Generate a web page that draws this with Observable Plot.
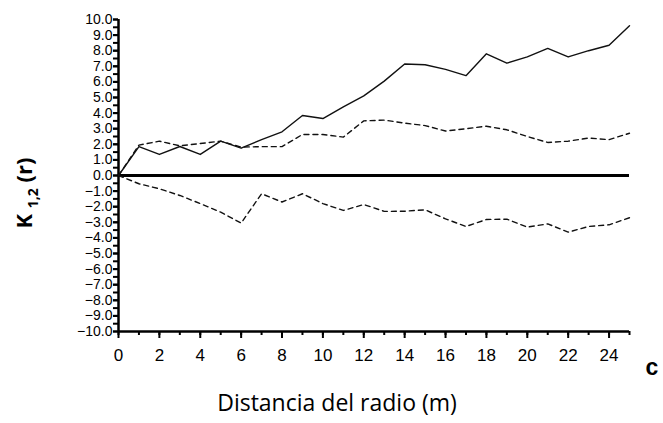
<!DOCTYPE html>
<html><head><meta charset="utf-8">
<script src="https://cdn.jsdelivr.net/npm/d3@7"></script>
<script src="https://cdn.jsdelivr.net/npm/@observablehq/plot@0.6"></script>
<style>body{margin:0;background:#fff}</style>
</head><body><div id="chart"></div>
<script>
const radius = d3.range(0, 26);
const observed = [0, 1.85, 1.35, 1.86, 1.35, 2.2, 1.75, 2.3, 2.8, 3.85, 3.65, 4.4, 5.1, 6.05, 7.15, 7.1, 6.8, 6.4, 7.8, 7.2, 7.6, 8.15, 7.6, 8.0, 8.35, 9.6];
const upperEnv = [0, 1.95, 2.2, 1.9, 2.05, 2.2, 1.82, 1.85, 1.85, 2.63, 2.63, 2.46, 3.5, 3.55, 3.36, 3.2, 2.85, 3.0, 3.16, 2.93, 2.5, 2.12, 2.2, 2.4, 2.3, 2.71];
const lowerEnv = [0, -0.53, -0.85, -1.28, -1.8, -2.35, -3.05, -1.17, -1.7, -1.17, -1.8, -2.24, -1.86, -2.3, -2.29, -2.2, -2.78, -3.27, -2.82, -2.8, -3.31, -3.1, -3.63, -3.27, -3.16, -2.71];
const yTicks = d3.range(-10, 11, 1);
const yMinor = d3.range(-10, 10.5, 0.5);
const xTicks = d3.range(0, 25, 2);
const xMinor = d3.range(0, 26, 1);
const xTitle = "Distancia del radio (m)";
const yTitleMain = "K";
const yTitleSub = "1,2";
const yTitleEnd = "(r)";
const panelLetter = "c";

const rows = radius.map((r, i) => ({r, obs: observed[i], hi: upperEnv[i], lo: lowerEnv[i]}));

const plot = Plot.plot({
  width: 663, height: 423,
  marginLeft: 118, marginRight: 34, marginTop: 19, marginBottom: 92,
  style: {fontFamily: "'Liberation Sans', Arial, sans-serif", fontSize: "18px", background: "#fff", color: "#000", overflow: "visible"},
  x: {domain: [0, 25]},
  y: {domain: [-10, 10]},
  marks: [
    Plot.axisY({ticks: yMinor, tickSize: 5, tickFormat: () => "", strokeWidth: 2, label: null}),
    Plot.axisY({ticks: yTicks, tickSize: 5, tickPadding: 1, tickFormat: d3.format(".1f"), strokeWidth: 2, fontSize: 14, letterSpacing: 0.8, label: null}),
    Plot.axisX({ticks: xMinor, tickSize: 4, tickFormat: () => "", strokeWidth: 2, label: null}),
    Plot.axisX({ticks: xTicks, tickSize: 7, tickPadding: 10, strokeWidth: 2, fontSize: 17, label: null}),
    Plot.ruleX([0], {y1: -10, y2: 10, strokeWidth: 2.5}),
    Plot.ruleY([-10], {x1: 0, x2: 25, strokeWidth: 2.5}),
    Plot.ruleY([0], {x1: 0, x2: 25, strokeWidth: 3}),
    Plot.line(rows, {x: "r", y: "hi", stroke: "#111", strokeWidth: 1.4, strokeDasharray: "5,4"}),
    Plot.line(rows, {x: "r", y: "lo", stroke: "#111", strokeWidth: 1.4, strokeDasharray: "5,4"}),
    Plot.line(rows, {x: "r", y: "obs", stroke: "#111", strokeWidth: 1.4})
  ]
});
document.getElementById("chart").appendChild(plot);

const svg = d3.select(plot);
const yt = svg.append("text")
  .attr("transform", "translate(32,193) rotate(-90)")
  .attr("text-anchor", "middle")
  .attr("font-family", "'Open Sans', sans-serif")
  .attr("font-weight", "bold")
  .attr("font-size", 22)
  .attr("fill", "#000");
yt.append("tspan").text(yTitleMain + " ");
yt.append("tspan").attr("font-size", 14).attr("dy", 6).text(yTitleSub);
yt.append("tspan").attr("dy", -6).text(" " + yTitleEnd);

svg.append("text")
  .attr("x", 337).attr("y", 411)
  .attr("text-anchor", "middle")
  .attr("font-family", "'Open Sans', sans-serif")
  .attr("font-size", 23)
  .attr("fill", "#000")
  .text(xTitle);

svg.append("text")
  .attr("x", 652).attr("y", 375)
  .attr("text-anchor", "middle")
  .attr("font-family", "'Liberation Sans', Arial, sans-serif")
  .attr("font-weight", "bold")
  .attr("font-size", 23)
  .attr("fill", "#000")
  .text(panelLetter);
</script>
</body></html>
